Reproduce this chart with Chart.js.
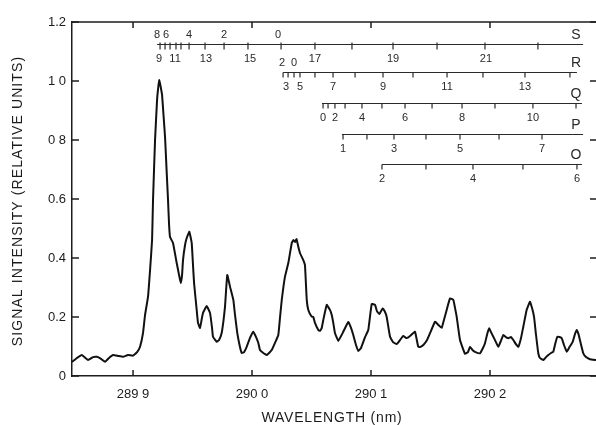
<!DOCTYPE html>
<html><head><meta charset="utf-8">
<script src="https://cdn.jsdelivr.net/npm/chart.js@4"></script>
<style>html,body{margin:0;padding:0;background:#fff}#wrap{width:596px;height:425px}</style>
</head><body><div id="wrap"><canvas id="c" width="596" height="425"></canvas></div>
<script>
// ---- spectrum (wavelength nm, relative intensity) ----
const wavelength = [289.8487,289.8529,289.8569,289.8622,289.8664,289.8697,289.8731,289.8765,289.8798,289.8832,289.8874,289.8916,289.8958,289.9000,289.9034,289.9059,289.9084,289.9101,289.9126,289.9143,289.9160,289.9168,289.9185,289.9202,289.9214,289.9221,289.9231,289.9244,289.9256,289.9269,289.9282,289.9294,289.9303,289.9311,289.9336,289.9367,289.9387,289.9401,289.9412,289.9420,289.9437,289.9451,289.9473,289.9493,289.9504,289.9513,289.9535,289.9546,289.9563,289.9576,289.9588,289.9619,289.9647,289.9664,289.9672,289.9703,289.9723,289.9745,289.9761,289.9773,289.9792,289.9815,289.9843,289.9857,289.9876,289.9895,289.9913,289.9933,289.9955,289.9983,290.0011,290.0034,290.0053,290.0067,290.0095,290.0124,290.0166,290.0193,290.0221,290.0235,290.0250,290.0277,290.0305,290.0334,290.0349,290.0361,290.0374,290.0389,290.0403,290.0431,290.0445,290.0460,290.0473,290.0502,290.0515,290.0529,290.0557,290.0571,290.0586,290.0599,290.0628,290.0655,290.0670,290.0683,290.0697,290.0725,290.0767,290.0809,290.0832,290.0851,290.0874,290.0893,290.0916,290.0950,290.0977,290.1006,290.1034,290.1050,290.1070,290.1098,290.1118,290.1132,290.1160,290.1185,290.1216,290.1244,290.1271,290.1294,290.1313,290.1345,290.1370,290.1397,290.1412,290.1440,290.1471,290.1496,290.1538,290.1566,290.1594,290.1613,290.1636,290.1664,290.1692,290.1706,290.1720,290.1748,290.1790,290.1815,290.1832,290.1853,290.1874,290.1916,290.1941,290.1958,290.1979,290.1994,290.2008,290.2028,290.2050,290.2070,290.2092,290.2112,290.2134,290.2154,290.2176,290.2196,290.2218,290.2238,290.2261,290.2280,290.2308,290.2336,290.2353,290.2370,290.2387,290.2406,290.2420,290.2448,290.2471,290.2490,290.2513,290.2532,290.2550,290.2566,290.2584,290.2603,290.2622,290.2645,290.2668,290.2695,290.2714,290.2729,290.2744,290.2756,290.2784,290.2807,290.2840,290.2891];
const intensity = [0.048,0.061,0.071,0.054,0.064,0.065,0.058,0.048,0.061,0.071,0.068,0.065,0.071,0.069,0.081,0.099,0.146,0.207,0.269,0.359,0.461,0.597,0.800,0.936,0.986,1.003,0.983,0.953,0.885,0.810,0.698,0.597,0.512,0.471,0.451,0.383,0.342,0.315,0.342,0.393,0.444,0.468,0.489,0.451,0.376,0.315,0.224,0.180,0.163,0.190,0.214,0.237,0.214,0.163,0.133,0.116,0.122,0.146,0.190,0.235,0.342,0.303,0.258,0.207,0.146,0.105,0.078,0.081,0.099,0.129,0.150,0.132,0.112,0.088,0.078,0.071,0.088,0.112,0.139,0.197,0.258,0.337,0.383,0.451,0.461,0.454,0.464,0.438,0.417,0.393,0.376,0.258,0.224,0.201,0.200,0.180,0.156,0.153,0.163,0.190,0.241,0.224,0.207,0.180,0.146,0.119,0.150,0.183,0.163,0.139,0.105,0.085,0.095,0.132,0.156,0.244,0.241,0.220,0.210,0.229,0.217,0.200,0.133,0.115,0.108,0.122,0.136,0.129,0.131,0.142,0.150,0.099,0.098,0.105,0.122,0.145,0.184,0.173,0.163,0.190,0.224,0.263,0.258,0.231,0.201,0.122,0.075,0.081,0.099,0.088,0.082,0.077,0.095,0.111,0.146,0.162,0.149,0.133,0.115,0.099,0.119,0.139,0.132,0.128,0.132,0.122,0.108,0.099,0.129,0.167,0.224,0.252,0.231,0.201,0.139,0.077,0.061,0.054,0.064,0.071,0.078,0.082,0.112,0.133,0.132,0.128,0.105,0.082,0.098,0.116,0.142,0.156,0.142,0.122,0.077,0.064,0.057,0.054];

// ---- axes ----
const xMin = 289.8487, xMax = 290.2891;
const xTickValues = [289.9, 290.0, 290.1, 290.2];
const xTickLabels = ['289 9', '290 0', '290 1', '290 2'];
const yTickValues = [0, 0.2, 0.4, 0.6, 0.8, 1.0, 1.2];
const yTickLabels = ['0', '0.2', '0.4', '0.6', '0 8', '1 0', '1.2'];
const xTitle = 'WAVELENGTH (nm)';
const yTitle = 'SIGNAL INTENSITY (RELATIVE UNITS)';

// ---- rotational branch assignment bars ----
const branchNames = ['S', 'R', 'Q', 'P', 'O'];
const branchLevels = [1.127, 1.029, 0.925, 0.820, 0.719];
const branchStart = [289.9202, 290.0261, 290.0588, 290.0756, 290.1092];
const branchEnd = [290.2782, 290.2731, 290.2773, 290.2782, 290.2773];
const branchNameAt = 290.2723;
const sTicks = [289.9227, 289.9269, 289.9311, 289.9361, 289.9403, 289.9471, 289.9605, 289.9765, 289.9966, 290.0244, 290.0529, 290.0840, 290.1185, 290.1555, 290.1958, 290.2403];
const rTicks = [290.0261, 290.0303, 290.0353, 290.0403, 290.0529, 290.0681, 290.0866, 290.1101, 290.1353, 290.1639, 290.1941, 290.2294, 290.2672];
const qTicks = [290.0597, 290.0639, 290.0697, 290.0782, 290.0924, 290.1092, 290.1286, 290.1513, 290.1765, 290.2042, 290.2361, 290.2723];
const pTicks = [290.0765, 290.0966, 290.1193, 290.1462, 290.1748, 290.2076, 290.2437];
const oTicks = [290.1092, 290.1462, 290.1857, 290.2277, 290.2731];
const sUpLabels = ['8', '6', '4', '2', '0'];
const sUpAt = [289.9202, 289.9277, 289.9471, 289.9765, 290.0218];
const sDownLabels = ['9', '11', '13', '15', '17', '19', '21'];
const sDownAt = [289.9218, 289.9353, 289.9613, 289.9983, 290.0529, 290.1185, 290.1966];
const rUpLabels = ['2', '0'];
const rUpAt = [290.0252, 290.0353];
const rDownLabels = ['3', '5', '7', '9', '11', '13'];
const rDownAt = [290.0286, 290.0403, 290.0681, 290.1101, 290.1639, 290.2294];
const qDownLabels = ['0', '2', '4', '6', '8', '10'];
const qDownAt = [290.0597, 290.0697, 290.0924, 290.1286, 290.1765, 290.2361];
const pDownLabels = ['1', '3', '5', '7'];
const pDownAt = [290.0765, 290.1193, 290.1748, 290.2437];
const oDownLabels = ['2', '4', '6'];
const oDownAt = [290.1092, 290.1857, 290.2731];

const branchTicks = [sTicks, rTicks, qTicks, pTicks, oTicks];
const branchUp = [[sUpLabels, sUpAt], [rUpLabels, rUpAt], [[], []], [[], []], [[], []]];
const branchDown = [[sDownLabels, sDownAt], [rDownLabels, rDownAt], [qDownLabels, qDownAt], [pDownLabels, pDownAt], [oDownLabels, oDownAt]];

const INK = '#1c1c1c';
const FONT = '"Liberation Sans", Arial, sans-serif';

const overlay = {
  id: 'overlay',
  afterDraw(chart) {
    const {ctx, chartArea: ca, scales: {x, y}} = chart;
    ctx.save();
    const seg = (x1, y1, x2, y2) => { ctx.beginPath(); ctx.moveTo(x1, y1); ctx.lineTo(x2, y2); ctx.stroke(); };
    ctx.strokeStyle = INK;
    ctx.lineWidth = 1.5;
    seg(ca.left, ca.top, ca.right, ca.top);
    xTickValues.forEach(v => {
      const px = x.getPixelForValue(v);
      seg(px, ca.bottom, px, ca.bottom - 6);
      seg(px, ca.top, px, ca.top + 6);
    });
    yTickValues.forEach(v => {
      const py = y.getPixelForValue(v);
      seg(ca.left, py, ca.left + 7, py);
      seg(ca.right, py, ca.right - 6, py);
    });
    // axis titles (letter-spaced like the original lettering)
    ctx.fillStyle = INK;
    ctx.textAlign = 'center';
    ctx.textBaseline = 'middle';
    ctx.font = '14px ' + FONT;
    if ('letterSpacing' in ctx) ctx.letterSpacing = '0.8px';
    ctx.fillText(xTitle, (ca.left + ca.right) / 2 - 2, 418);
    ctx.save();
    ctx.translate(18, (ca.top + ca.bottom) / 2 + 2);
    ctx.rotate(-Math.PI / 2);
    if ('letterSpacing' in ctx) ctx.letterSpacing = '1.1px';
    ctx.fillText(yTitle, 0, 0);
    ctx.restore();
    if ('letterSpacing' in ctx) ctx.letterSpacing = '0px';
    // branches
    ctx.lineWidth = 1.2;
    ctx.strokeStyle = '#2a2a2a';
    ctx.fillStyle = '#2a2a2a';
    branchNames.forEach((name, i) => {
      const py = Math.round(y.getPixelForValue(branchLevels[i])) + 0.5;
      seg(x.getPixelForValue(branchStart[i]), py, x.getPixelForValue(branchEnd[i]), py);
      branchTicks[i].forEach(v => {
        const px = x.getPixelForValue(v);
        seg(px, i === 0 ? py - 2 : py, px, py + 5);
      });
      ctx.font = '11px ' + FONT;
      const [ul, ua] = branchUp[i];
      ul.forEach((t, k) => ctx.fillText(t, x.getPixelForValue(ua[k]), py - 10));
      const [dl, da] = branchDown[i];
      dl.forEach((t, k) => ctx.fillText(t, x.getPixelForValue(da[k]), py + 14));
      ctx.font = '14px ' + FONT;
      ctx.fillText(name, x.getPixelForValue(branchNameAt), py - 9);
    });
    ctx.restore();
  }
};

new Chart(document.getElementById('c'), {
  type: 'line',
  data: {
    datasets: [{
      data: wavelength.map((w, i) => ({x: w, y: intensity[i]})),
      borderColor: '#111',
      borderWidth: 2,
      pointRadius: 0,
      tension: 0.1,
      fill: false
    }]
  },
  options: {
    responsive: false,
    animation: false,
    devicePixelRatio: 1,
    layout: {padding: {top: 22, right: 0, left: 0, bottom: 0}},
    plugins: {legend: {display: false}, tooltip: {enabled: false}},
    scales: {
      x: {
        type: 'linear', min: xMin, max: xMax,
        afterBuildTicks: s => { s.ticks = xTickValues.map(v => ({value: v})); },
        afterFit: s => { s.height = 49; },
        ticks: {
          autoSkip: false, maxRotation: 0, padding: 11, color: INK,
          font: {family: FONT, size: 13},
          callback: (v) => { const k = xTickValues.findIndex(t => Math.abs(t - v) < 1e-6); return k >= 0 ? xTickLabels[k] : ''; }
        },
        grid: {display: false, drawTicks: false},
        border: {display: true, color: INK, width: 1.5},
        title: {display: false}
      },
      y: {
        min: 0, max: 1.2,
        afterBuildTicks: s => { s.ticks = yTickValues.map(v => ({value: v})); },
        afterFit: s => { s.width = 72; },
        ticks: {
          autoSkip: false, padding: 6, color: INK,
          font: {family: FONT, size: 13},
          callback: (v) => { const k = yTickValues.findIndex(t => Math.abs(t - v) < 1e-6); return k >= 0 ? yTickLabels[k] : ''; }
        },
        grid: {display: false, drawTicks: false},
        border: {display: true, color: INK, width: 1.5},
        title: {display: false}
      }
    }
  },
  plugins: [overlay]
});
</script>
</body></html>
